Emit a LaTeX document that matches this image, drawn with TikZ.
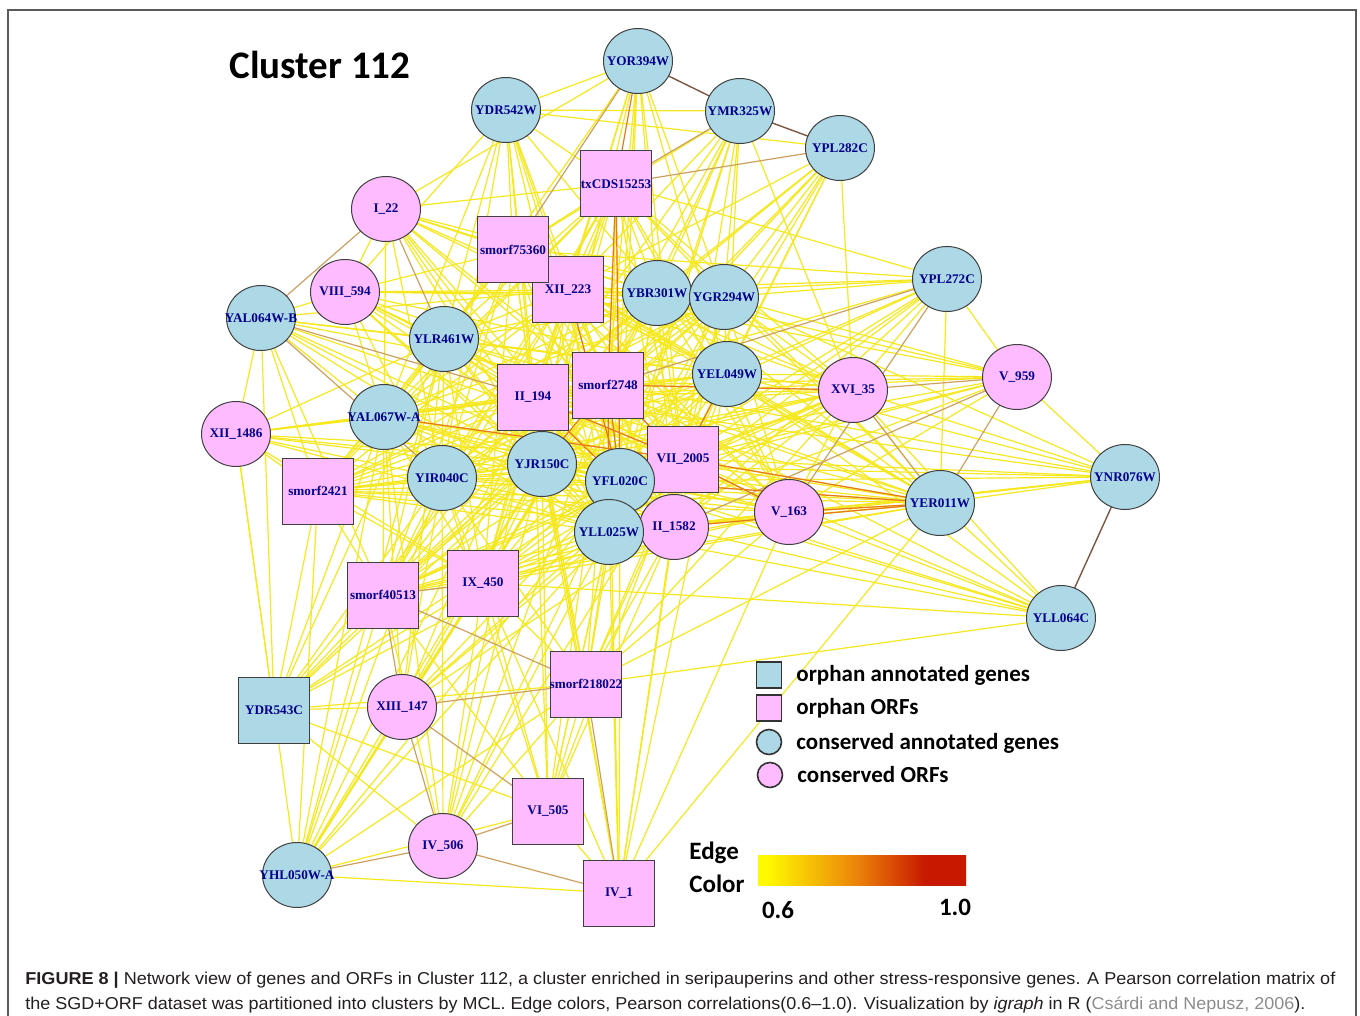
\documentclass[tikz,border=0pt]{standalone}
\usepackage{graphicx}
\usepackage{fontspec}
\setmainfont{Liberation Serif}
\newfontfamily\legendfont{Carlito}
\newfontfamily\captionfont{Liberation Sans}
\usetikzlibrary{shapes.geometric, backgrounds}

\definecolor{geneblue}{HTML}{ADD8E6}
\definecolor{orfpink}{HTML}{FFBBFF}
\definecolor{labelblue}{HTML}{00008B}
\definecolor{edgeyel}{RGB}{245,232,30}
\definecolor{edgetan}{RGB}{205,160,95}
\definecolor{edgeorg}{RGB}{232,120,30}
\definecolor{edgebrn}{RGB}{125,85,65}
\definecolor{gradyel}{RGB}{255,250,0}
\definecolor{gradorg}{RGB}{235,130,10}
\definecolor{gradred}{RGB}{200,25,0}
\definecolor{captext}{RGB}{35,31,32}
\definecolor{citegray}{RGB}{140,140,140}
\definecolor{framegray}{RGB}{90,90,90}

\pgfdeclarehorizontalshading{edgegrad}{100bp}{color(0bp)=(gradyel); color(27bp)=(gradyel); color(49bp)=(gradorg); color(65bp)=(gradred); color(100bp)=(gradred)}

% vertex labels do not widen the vertex
\newcommand{\vlabel}[1]{\makebox[0pt]{#1}}

% densely linked core of the cluster
\newcommand{\corenodes}{ylr461w,yal067wa,yir040c,yjr150c,yfl020c,yll025w,ii194,smorf2748,vii2005,ii1582,yel049w,xii223,smorf75360,ybr301w,ygr294w,txcds,xvi35,v163,yer011w,smorf2421,ix450,smorf40513}

\begin{document}
\begin{tikzpicture}[
    x=0.5pt, y=-0.5pt,
    vtx/.style={draw=black!75, line width=0.5pt, inner sep=0pt, text=labelblue, font=\bfseries\fontsize{6.6}{7}\selectfont},
    cgene/.style={vtx, ellipse, fill=geneblue, minimum width=34.5pt, minimum height=32.5pt},
    corf/.style={vtx, ellipse, fill=orfpink, minimum width=34.5pt, minimum height=32.5pt},
    ogene/.style={vtx, rectangle, fill=geneblue, minimum width=35.5pt, minimum height=33pt},
    oorf/.style={vtx, rectangle, fill=orfpink, minimum width=35.5pt, minimum height=33pt},
    yedge/.style={edgeyel, line width=0.6pt},
    tedge/.style={edgetan, line width=0.6pt},
    oedge/.style={edgeorg, line width=0.6pt},
    bedge/.style={edgebrn, line width=0.7pt},
    legbox/.style={draw=black!80, line width=0.8pt, inner sep=0pt, minimum width=12.5pt, minimum height=13pt},
    legtext/.style={anchor=west, inner sep=0pt, font=\legendfont\bfseries\fontsize{11.5}{13}\selectfont},
    bigtext/.style={inner sep=0pt, font=\legendfont\bfseries\fontsize{12.5}{14}\selectfont}
]
\useasboundingbox (0,0) rectangle (1360,1016);

% frame
\draw[framegray, line width=0.75pt] (8,1016) -- (8,10) -- (1356,10) -- (1356,1016);

\node[font=\legendfont\bfseries\fontsize{19.5}{22}\selectfont] (title) at (320,65) {Cluster 112};

% vertices
\node[cgene] (yor394w) at (638,61) {\vlabel{YOR394W}};
\node[cgene] (ydr542w) at (506,110) {\vlabel{YDR542W}};
\node[cgene] (ymr325w) at (740,111) {\vlabel{YMR325W}};
\node[cgene] (ypl282c) at (840,148) {\vlabel{YPL282C}};
\node[oorf] (txcds) at (616,184) {\vlabel{txCDS15253}};
\node[corf] (i22) at (386,209) {\vlabel{I\_22}};
\node[oorf] (xii223) at (568,290) {\vlabel{XII\_223}};
\node[oorf] (smorf75360) at (513,250) {\vlabel{smorf75360}};
\node[cgene] (ybr301w) at (657,293) {\vlabel{YBR301W}};
\node[cgene] (ygr294w) at (724,297) {\vlabel{YGR294W}};
\node[cgene] (ypl272c) at (947,279) {\vlabel{YPL272C}};
\node[corf] (viii594) at (345,292) {\vlabel{VIII\_594}};
\node[cgene] (yal064wb) at (261,318) {\vlabel{YAL064W-B}};
\node[cgene] (ylr461w) at (444,339) {\vlabel{YLR461W}};
\node[cgene] (yel049w) at (727,374) {\vlabel{YEL049W}};
\node[oorf] (smorf2748) at (608,385) {\vlabel{smorf2748}};
\node[oorf] (ii194) at (533,397) {\vlabel{II\_194}};
\node[corf] (xvi35) at (853,390) {\vlabel{XVI\_35}};
\node[corf] (v959) at (1017,377) {\vlabel{V\_959}};
\node[cgene] (yal067wa) at (384,417) {\vlabel{YAL067W-A}};
\node[corf] (xii1486) at (236,434) {\vlabel{XII\_1486}};
\node[oorf] (vii2005) at (683,459) {\vlabel{VII\_2005}};
\node[cgene] (yjr150c) at (542,464) {\vlabel{YJR150C}};
\node[cgene] (yir040c) at (442,478) {\vlabel{YIR040C}};
\node[cgene] (yfl020c) at (620,481) {\vlabel{YFL020C}};
\node[corf] (ii1582) at (674,527) {\vlabel{II\_1582}};
\node[cgene] (yll025w) at (609,532) {\vlabel{YLL025W}};
\node[oorf] (smorf2421) at (318,491) {\vlabel{smorf2421}};
\node[corf] (v163) at (789,512) {\vlabel{V\_163}};
\node[cgene] (yer011w) at (940,503) {\vlabel{YER011W}};
\node[cgene] (ynr076w) at (1125,477) {\vlabel{YNR076W}};
\node[cgene] (yll064c) at (1061,618) {\vlabel{YLL064C}};
\node[oorf] (ix450) at (483,583) {\vlabel{IX\_450}};
\node[oorf] (smorf40513) at (383,595) {\vlabel{smorf40513}};
\node[oorf] (smorf218022) at (586,684) {\vlabel{smorf218022}};
\node[ogene] (ydr543c) at (274,710) {\vlabel{YDR543C}};
\node[corf] (xiii147) at (402,707) {\vlabel{XIII\_147}};
\node[oorf] (vi505) at (548,811) {\vlabel{VI\_505}};
\node[corf] (iv506) at (443,846) {\vlabel{IV\_506}};
\node[cgene] (yhl050wa) at (297,875) {\vlabel{YHL050W-A}};
\node[oorf] (iv1) at (619,893) {\vlabel{IV\_1}};

\begin{pgfonlayer}{background}
% core: every pair linked
\foreach \a [count=\i] in \corenodes {
  \foreach \b [count=\j] in \corenodes {
    \ifnum\j>\i \draw[yedge] (\a.center) -- (\b.center); \fi
  }
}
% outer vertices
\foreach \p/\qs in {
  yor394w/{ydr542w,xii223,ybr301w,ygr294w,yel049w,smorf2748,ii194,yjr150c,yfl020c,yll025w,vii2005,ylr461w,i22},
  ydr542w/{ymr325w,ypl282c,txcds,smorf75360,xii223,ii194,ylr461w,yjr150c,yfl020c,yll025w,smorf2748,ybr301w,yir040c,yal067wa,viii594},
  ymr325w/{ybr301w,ygr294w,yel049w,smorf2748,ii194,xii223,vii2005,yfl020c,yjr150c,yll025w,xvi35,smorf75360},
  ypl282c/{ygr294w,ybr301w,yel049w,xii223,smorf2748,vii2005,yfl020c,xvi35,ii194,yll025w,yjr150c},
  i22/{viii594,smorf75360,xii223,ybr301w,ygr294w,ii194,smorf2748,yjr150c,yfl020c,yll025w,yal067wa,yel049w,yir040c,txcds,vii2005},
  viii594/{yal064wb,ylr461w,xii223,ii194,smorf2748,yjr150c,yfl020c,yel049w,ybr301w,ygr294w,yal067wa,yir040c,smorf75360,yll025w,vii2005},
  yal064wb/{ylr461w,yal067wa,xii1486,smorf2421,yjr150c,yfl020c,yll025w,smorf2748,xii223,ydr543c,smorf40513,vii2005,yel049w},
  xii1486/{yal067wa,ylr461w,ii194,yjr150c,yir040c,smorf2748,yfl020c,yll025w,vii2005,ydr543c,smorf2421,yhl050wa,ix450,yel049w},
  ypl272c/{ygr294w,ybr301w,xii223,smorf75360,yel049w,ii194,vii2005,yfl020c,yjr150c,xvi35,v959,yer011w,yll025w,ii1582,txcds},
  v959/{yel049w,ygr294w,ybr301w,smorf2748,vii2005,ii194,yfl020c,yjr150c,v163,yll025w,xii223},
  ynr076w/{yer011w,xvi35,yel049w,ygr294w,vii2005,v163,ii1582,smorf2748,yfl020c,yjr150c,yll025w,ii194,v959},
  yll064c/{yer011w,v163,ii1582,vii2005,yfl020c,yll025w,xvi35,yel049w,smorf2748,yjr150c,smorf218022,ix450},
  ydr543c/{xiii147,smorf218022,yal067wa,ylr461w,yir040c,smorf2421,smorf40513,ix450,yjr150c,yfl020c,yll025w,ii194,vi505,iv506,smorf2748},
  xiii147/{ix450,yir040c,yjr150c,yfl020c,yll025w,ii194,smorf2748,yal067wa,ylr461w,ii1582,vii2005},
  smorf218022/{vi505,iv506,ix450,yll025w,yfl020c,yjr150c,ii1582,smorf2748,ii194,vii2005,yir040c,yer011w,v163,yel049w,xvi35},
  vi505/{iv1,yll025w,yfl020c,yjr150c,ix450,smorf40513,ii194,smorf2748,vii2005,yir040c,ii1582},
  iv506/{smorf40513,ix450,yjr150c,yfl020c,yll025w,ii194,yir040c,smorf2748,yal067wa,vii2005},
  iv1/{yhl050wa,yll025w,yfl020c,yjr150c,ii1582,smorf2748,ix450,vii2005,yel049w,v163,ii194,yer011w},
  yhl050wa/{xiii147,smorf40513,ix450,yir040c,yjr150c,yfl020c,yll025w,ii194,yal067wa,smorf2748,smorf2421,vi505,smorf218022,ylr461w}}{%
  \foreach \q in \qs {\draw[yedge] (\p.center) -- (\q.center);}}
% stronger correlations
\foreach \a/\b in {yor394w/smorf75360, txcds/ymr325w, txcds/ypl282c, i22/yal064wb, i22/ylr461w, yal064wb/ii194, yal064wb/yir040c, ypl272c/smorf2748, ypl272c/v163, v959/xvi35, v959/yer011w, v959/ii1582, yer011w/xvi35, xiii147/smorf218022, xiii147/iv506, xiii147/vi505, xiii147/smorf40513, iv506/yhl050wa, iv506/vi505, iv506/iv1, smorf218022/iv1, smorf40513/smorf218022, smorf40513/ix450}
  \draw[tedge] (\a.center) -- (\b.center);
\foreach \a/\b in {yor394w/txcds, txcds/smorf2748, txcds/yfl020c, smorf2748/yfl020c, smorf2748/vii2005, ii194/vii2005, yjr150c/smorf2748, vii2005/yer011w, v163/yer011w, ii1582/yer011w, yal067wa/vii2005, yfl020c/yer011w, xii223/yfl020c, yel049w/vii2005, smorf2748/xvi35, ii194/yfl020c, smorf2748/yll025w, vii2005/v163}
  \draw[oedge] (\a.center) -- (\b.center);
\foreach \a/\b in {yor394w/ymr325w, ymr325w/ypl282c, ynr076w/yll064c}
  \draw[bedge] (\a.center) -- (\b.center);
\end{pgfonlayer}

% legend
\node[legbox, rectangle, fill=geneblue] (lgogene) at (769,675) {};
\node[legbox, rectangle, fill=orfpink] (lgoorf) at (769,708) {};
\node[legbox, ellipse, fill=geneblue, minimum height=12.5pt] (lgcgene) at (769,742) {};
\node[legbox, ellipse, fill=orfpink, minimum height=12.5pt] (lgcorf) at (770,775) {};
\node[legtext] (tgogene) at (796,675) {orphan annotated genes};
\node[legtext] (tgoorf) at (796,708) {orphan ORFs};
\node[legtext] (tgcgene) at (796,743) {conserved annotated genes};
\node[legtext] (tgcorf) at (797,775) {conserved ORFs};

\node[bigtext, anchor=west] (edgetxt) at (689,853) {Edge};
\node[bigtext, anchor=west] (colortxt) at (689,884) {Color};
\shade[shading=edgegrad] (758,855) rectangle (966,885);
\node[bigtext] (lowval) at (778,910) {0.6};
\node[bigtext] (highval) at (955,907) {1.0};

% caption
\node[anchor=base west, inner sep=0pt, text=captext, font=\captionfont\fontsize{8.6}{10}\selectfont] (capa) at (25,984)
  {\resizebox{655pt}{\height}{\textbf{FIGURE 8 \textbar} Network view of genes and ORFs in Cluster 112, a cluster enriched in seripauperins and other stress-responsive genes. A Pearson correlation matrix of}};
\node[anchor=base west, inner sep=0pt, text=captext, font=\captionfont\fontsize{8.6}{10}\selectfont] (capb) at (25,1009)
  {\resizebox{640pt}{\height}{the SGD+ORF dataset was partitioned into clusters by MCL. Edge colors, Pearson correlations(0.6–1.0). Visualization by \textit{igraph} in R ({\color{citegray}Csárdi and Nepusz, 2006}).}};
\end{tikzpicture}
\end{document}
